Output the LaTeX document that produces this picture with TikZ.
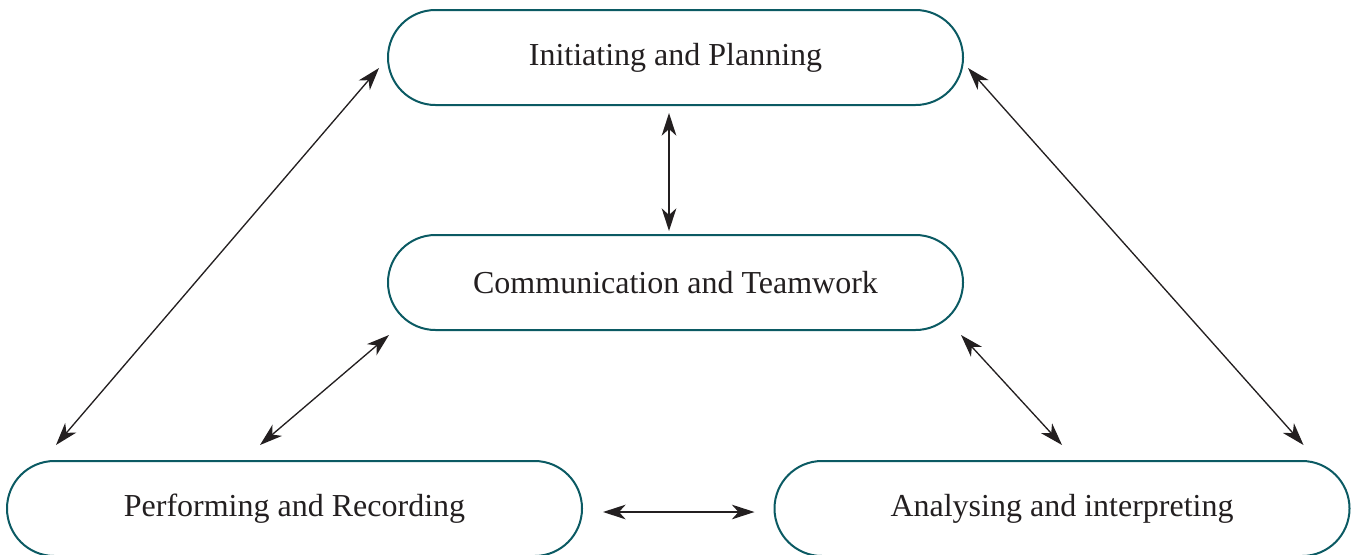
\documentclass[tikz,border=0pt]{standalone}
\usepackage{fontspec}
\setmainfont{Liberation Serif}
\usetikzlibrary{calc,arrows.meta}
\definecolor{rimteal}{HTML}{0B5A63}
\definecolor{inkgray}{HTML}{231F20}
\tikzset{
  phase/.style={
    draw=rimteal, line width=1.5pt,
    rounded corners=35.6pt,
    minimum width=431.25pt, minimum height=71.25pt,
    font=\fontsize{24}{28}\selectfont, text=inkgray
  },
  link/.style={
    draw=inkgray, line width=1pt,
    {Stealth[length=17pt,width=11pt,inset=5pt]}-{Stealth[length=17pt,width=11pt,inset=5pt]}
  }
}

\begin{document}
\begin{tikzpicture}[x=0.75pt,y=-0.75pt]
  \useasboundingbox (0,0) rectangle (1351,554);

  \node[phase] (init) at (675.5,57.5)  {Initiating and Planning};
  \node[phase] (comm) at (675.5,282.5) {Communication and Teamwork};
  \node[phase] (perf) at (294.5,508.5) {Performing and Recording};
  \node[phase] (anal) at (1062,508.5)  {Analysing and interpreting};

  % outer triangle
  \draw[link] ($(init.west)+(-8,10.5)$) -- ($(perf.north west)+(50,-15)$);
  \draw[link] ($(init.east)+(4,10.5)$) -- ($(anal.north east)+(-47,-15)$);
  \draw[link] ($(perf.east)+(20,3.5)$) -- ($(anal.west)+(-19,3.5)$);

  % spokes to the centre
  \draw[link] ($(init.south)+(-6.5,7)$) -- ($(comm.north)+(-6.5,-3)$);
  \draw[link] ($(comm.south west)+(2,4)$) -- ($(perf.north)+(-34.5,-15)$);
  \draw[link] ($(comm.south east)+(-3,4)$) -- ($(anal.north)+(0,-15)$);
\end{tikzpicture}
\end{document}
